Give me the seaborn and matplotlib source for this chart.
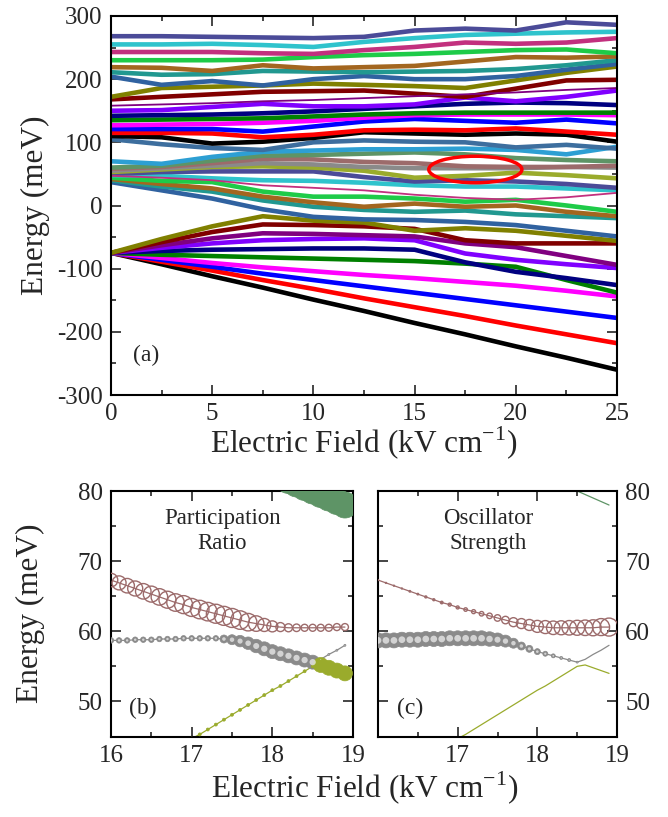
import matplotlib
matplotlib.use('Agg')
import matplotlib.pyplot as plt
from matplotlib.patches import Ellipse
from matplotlib.ticker import MultipleLocator
import seaborn as sns
import pandas as pd

# ---- panel (a): energy levels vs field ----
field = [0, 2.5, 5, 7.5, 10, 12.5, 15, 17.5, 20, 22.5, 25]

# states fanning out from -75 meV
fan_names = ['black', 'red', 'blue', 'magenta', 'green', 'navy', 'violet', 'purple', 'darkred', 'olive']
fan_E = [
    [-75, -93, -112, -130, -149, -167, -186, -204, -223, -241, -260],
    [-75, -89, -103, -118, -132, -147, -161, -175, -190, -204, -218],
    [-75, -86, -97, -108, -118, -128, -138, -148, -158, -168, -178],
    [-75, -83, -91, -98, -104, -110, -115, -121, -127, -135, -144],
    [-75, -78, -80, -82, -84, -86, -88, -92, -97, -118, -138],
    [-75, -72, -70, -69, -68, -68, -70, -90, -105, -115, -126],
    [-75, -67, -60, -55, -53, -52, -55, -76, -86, -93, -99],
    [-75, -63, -52, -44, -45, -47, -49, -60, -66, -80, -94],
    [-75, -58, -42, -30, -31, -33, -37, -55, -60, -60, -60],
    [-75, -53, -33, -17, -24, -27, -40, -36, -40, -48, -56],
]

# states bunched around +50 meV at zero field
mid_names = ['steelblue', 'teal', 'chocolate', 'limegreen', 'violetred', 'turquoise',
             'slateblue', 'yellowgreen', 'gray', 'rosybrown', 'seagreen', 'lightblue', 'steelblue2']
mid_E = [
    [37, 24, 11, -6, -18, -22, -23, -26, -31, -40, -49],
    [40, 30, 22, 8, -2, -7, -10, -8, -14, -17, -20],
    [42, 34, 27, 14, 5, -2, 3, -2, 0, -10, -17],
    [44, 39, 37, 22, 14, 14, 11, 6, 9, 0, -10],
    [47, 44, 40, 32, 28, 24, 17, 12, 9, 13, 20],
    [48, 47, 43, 40, 39, 36, 32, 30, 30, 27, 24],
    [50, 53, 54, 54, 54, 45, 38, 40, 38, 34, 28],
    [53, 57, 61, 62, 60, 55, 44, 47, 52, 48, 43],
    [55, 59, 63, 67, 65, 61, 59, 59, 59, 61, 60],
    [58, 61, 67, 74, 73, 69, 67, 62, 61, 61, 63],
    [60, 63, 71, 79, 80, 82, 84, 81, 75, 72, 70],
    [70, 66, 77, 85, 87, 89, 89, 90, 88, 81, 93],
    [105, 97, 91, 88, 100, 103, 101, 100, 92, 96, 90],
]

# upper states
up_names = ['black', 'red', 'blue', 'magenta', 'green', 'navy', 'violet', 'purple', 'darkred',
            'olive', 'steelblue', 'teal', 'chocolate', 'limegreen', 'violetred', 'turquoise', 'slateblue']
up_E = [
    [110, 108, 98, 101, 107, 116, 114, 112, 114, 112, 101],
    [115, 115, 114, 108, 112, 119, 120, 119, 122, 117, 112],
    [121, 121, 121, 117, 125, 133, 137, 134, 131, 136, 130],
    [127, 128, 129, 131, 134, 139, 143, 144, 144, 144, 143],
    [135, 136, 137, 138, 141, 144, 146, 147, 147, 147, 147],
    [142, 143, 144, 146, 149, 153, 157, 161, 163, 162, 159],
    [150, 151, 156, 161, 157, 157, 160, 171, 165, 172, 182],
    [158, 160, 162, 165, 167, 170, 173, 176, 179, 183, 186],
    [168, 172, 176, 180, 181, 182, 177, 172, 185, 198, 199],
    [172, 186, 188, 190, 193, 191, 189, 186, 198, 210, 220],
    [204, 191, 197, 190, 200, 205, 200, 200, 205, 215, 224],
    [211, 207, 208, 213, 212, 211, 212, 213, 216, 222, 230],
    [219, 218, 213, 222, 217, 219, 221, 228, 235, 234, 236],
    [230, 230, 230, 231, 235, 238, 240, 243, 246, 247, 241],
    [243, 243, 243, 241, 240, 246, 251, 258, 256, 258, 265],
    [255, 255, 256, 254, 251, 259, 265, 270, 272, 274, 275],
    [268, 268, 267, 266, 265, 267, 277, 280, 277, 290, 286],
]

# ---- panels (b) and (c): zoom on the anticrossing ----
zoom_field = [16.0, 16.1, 16.2, 16.3, 16.4, 16.5, 16.6, 16.7, 16.8, 16.9,
              17.0, 17.1, 17.2, 17.3, 17.4, 17.5, 17.6, 17.7, 17.8, 17.9,
              18.0, 18.1, 18.2, 18.3, 18.4, 18.5, 18.6, 18.7, 18.8, 18.9]
E_rosy = [67.3, 66.9, 66.5, 66.1, 65.7, 65.3, 64.9, 64.5, 64.1, 63.8,
          63.4, 63.1, 62.8, 62.5, 62.2, 61.9, 61.6, 61.3, 61.1, 60.9,
          60.7, 60.6, 60.5, 60.5, 60.5, 60.5, 60.5, 60.5, 60.6, 60.6]
E_gray = [58.7, 58.7, 58.7, 58.8, 58.8, 58.8, 58.9, 58.9, 58.9, 59.0,
          59.0, 59.0, 59.0, 59.0, 58.9, 58.8, 58.6, 58.3, 57.9, 57.5,
          57.1, 56.8, 56.5, 56.2, 55.9, 55.6, 56.0, 56.7, 57.3, 58.0]
E_ygreen = [37.8, 38.5, 39.2, 39.9, 40.6, 41.3, 41.9, 42.6, 43.3, 44.0,
            44.7, 45.3, 46.0, 46.7, 47.4, 48.1, 48.8, 49.5, 50.2, 50.9,
            51.6, 52.2, 52.9, 53.6, 54.3, 55.0, 55.2, 54.8, 54.4, 54.0]
E_sgreen = [92.0, 91.5, 91.0, 90.5, 90.0, 89.5, 89.0, 88.5, 88.0, 87.5,
            87.0, 86.5, 86.0, 85.5, 85.0, 84.5, 84.0, 83.5, 83.0, 82.8,
            82.5, 82.0, 81.5, 81.0, 80.5, 80.0, 79.5, 79.0, 78.5, 78.0]

# participation ratio (arbitrary units)
pr_rosy = [13.5, 14, 14.5, 15, 15.5, 16, 16.5, 17, 17.5, 18, 18, 18.5, 18.5, 19, 19,
           19, 18.5, 17.5, 15.5, 13, 11, 9, 8, 7.5, 7, 7, 7, 7, 7, 7]
pr_gray = [5.5, 5.5, 5.5, 5.5, 5.5, 5.5, 5.5, 5.5, 5.5, 5.5, 5.5, 5.5, 5.5, 5.5, 8,
           10, 11.5, 12.5, 13.5, 14, 14, 14, 14, 14, 14, 14, 2, 2, 2, 2]
pr_ygreen = [3, 3, 3, 3, 3, 3, 3, 3, 3, 3, 3, 3, 3, 3, 3,
             3, 3, 3, 3, 3, 3, 3, 3, 3, 3, 3, 15, 15, 15, 15]
pr_sgreen = [26] * 30

# oscillator strength (arbitrary units)
os_rosy = [1, 1, 1, 1, 1.5, 1.5, 2, 2, 2.5, 3, 3, 3.5, 4, 4.5, 5.5,
           6.5, 7.5, 9, 10, 11, 12, 13, 13.5, 14, 14.5, 15, 15.5, 16, 17, 18]
os_gray = [15, 15, 15, 15, 15, 15, 15, 15, 15, 15, 15, 15, 15, 15, 14.5,
           13.5, 12, 10, 8, 7, 6, 5, 4, 3, 3, 2, 0, 0, 0, 0]

colors = {
    'black': '#000000', 'red': '#FF0000', 'blue': '#0000FF', 'magenta': '#FF00FF',
    'green': '#008000', 'navy': '#000080', 'violet': '#8000FF', 'purple': '#800080',
    'darkred': '#800000', 'olive': '#808000', 'steelblue': '#3062A0', 'teal': '#219890',
    'chocolate': '#A3661F', 'limegreen': '#1ECB48', 'violetred': '#C2307E',
    'turquoise': '#2FC3CC', 'slateblue': '#4B4B98', 'yellowgreen': '#9AAB2C',
    'gray': '#8A8A8A', 'rosybrown': '#9C6B6B', 'seagreen': '#5E9466',
    'lightblue': '#2D9FD3', 'steelblue2': '#3D6E9E',
}
thin_states = ['mid-violetred', 'up-purple']

sns.set_style('ticks')
plt.rcParams['font.family'] = ['Liberation Serif', 'DejaVu Serif']
plt.rcParams['mathtext.fontset'] = 'custom'
plt.rcParams['mathtext.rm'] = 'Liberation Serif'
plt.rcParams['axes.unicode_minus'] = False
plt.rcParams['axes.linewidth'] = 1.5

TICK = 18
LABEL = 22.5


def style_axes(ax):
    ax.tick_params(which='both', direction='in', top=True, right=True,
                   width=1.2, labelsize=TICK, pad=6)
    ax.tick_params(which='major', length=7)
    ax.tick_params(which='minor', length=3.5)
    for sp in ax.spines.values():
        sp.set_color('black')
        sp.set_linewidth(1.5)


def level_frame():
    rows = []
    for prefix, names, energies in [('fan', fan_names, fan_E), ('mid', mid_names, mid_E),
                                    ('up', up_names, up_E)]:
        for name, vals in zip(names, energies):
            for f, e in zip(field, vals):
                rows.append({'state': prefix + '-' + name, 'color': name, 'F': f, 'E': e})
    return pd.DataFrame(rows)


def panel_a(ax):
    df = level_frame()
    pal = {s: colors[c] for s, c in zip(df['state'], df['color'])}
    thick = df[~df['state'].isin(thin_states)]
    thin = df[df['state'].isin(thin_states)]
    sns.lineplot(data=thick, x='F', y='E', hue='state', palette=pal, lw=3.3,
                 estimator=None, sort=False, legend=False, ax=ax)
    sns.lineplot(data=thin, x='F', y='E', hue='state', palette=pal, lw=1.3,
                 estimator=None, sort=False, legend=False, ax=ax)
    ax.add_patch(Ellipse((18.0, 57), width=4.6, height=42, fill=False,
                         edgecolor='red', lw=2.5, zorder=5))
    ax.set_xlim(0, 25)
    ax.set_ylim(-300, 300)
    ax.xaxis.set_major_locator(MultipleLocator(5))
    ax.xaxis.set_minor_locator(MultipleLocator(2.5))
    ax.yaxis.set_major_locator(MultipleLocator(100))
    ax.yaxis.set_minor_locator(MultipleLocator(50))
    ax.set_xlabel('')
    ax.set_ylabel('')
    ax.text(1.75, -237, '(a)', fontsize=17, ha='center', va='center')
    style_axes(ax)


def zoom_panel(ax, sizes, label, title):
    series = [('seagreen', E_sgreen), ('rosybrown', E_rosy), ('gray', E_gray), ('yellowgreen', E_ygreen)]
    for name, vals in series:
        d = pd.DataFrame({'F': zoom_field, 'E': vals})
        sns.lineplot(data=d, x='F', y='E', color=colors[name], lw=0.9,
                     estimator=None, sort=False, legend=False, ax=ax)
    for name, vals in series:
        d = pd.DataFrame({'F': zoom_field, 'E': vals, 'd': sizes[name]})
        d = d[d['d'] > 0]
        area = (0.72 * d['d']) ** 2
        if name == 'rosybrown':
            sns.scatterplot(data=d, x='F', y='E', s=area, facecolors='none',
                            edgecolor=colors[name], linewidth=1.0, legend=False, ax=ax, zorder=4)
        elif name == 'gray':
            sns.scatterplot(data=d, x='F', y='E', s=area, color=colors[name],
                            edgecolor=colors[name], linewidth=0.5, legend=False, ax=ax, zorder=4)
            sns.scatterplot(data=d, x='F', y='E', s=area * 0.2, color='#e6e6e6',
                            edgecolor='none', alpha=0.8, legend=False, ax=ax, zorder=5)
        else:
            sns.scatterplot(data=d, x='F', y='E', s=area, color=colors[name],
                            edgecolor=colors[name], linewidth=0.5, legend=False, ax=ax, zorder=4)
    ax.set_xlim(16, 19)
    ax.set_ylim(45, 80)
    ax.xaxis.set_major_locator(MultipleLocator(1))
    ax.xaxis.set_minor_locator(MultipleLocator(0.5))
    ax.yaxis.set_major_locator(MultipleLocator(10))
    ax.yaxis.set_minor_locator(MultipleLocator(5))
    ax.set_xlabel('')
    ax.set_ylabel('')
    ax.text(16.4, 49, label, fontsize=17, ha='center', va='center')
    ax.text(17.38, 74.3, title, fontsize=16.5, ha='center', va='center', linespacing=1.2)
    style_axes(ax)


def main():
    fig = plt.figure(figsize=(6.68, 8.17), dpi=100)
    W, H = 668.0, 817.0
    ax_a = fig.add_axes([111 / W, 1 - 395 / H, 506 / W, 379 / H])
    ax_b = fig.add_axes([111 / W, 1 - 736.5 / H, 242 / W, 245.5 / H])
    ax_c = fig.add_axes([378 / W, 1 - 736.5 / H, 239 / W, 245.5 / H])

    panel_a(ax_a)
    zoom_panel(ax_b, {'seagreen': pr_sgreen, 'rosybrown': pr_rosy,
                      'gray': pr_gray, 'yellowgreen': pr_ygreen},
               '(b)', 'Participation\nRatio')
    zoom_panel(ax_c, {'seagreen': [0] * 30, 'rosybrown': os_rosy,
                      'gray': os_gray, 'yellowgreen': [0] * 30},
               '(c)', 'Oscillator\nStrength')
    ax_c.set_xticks([17, 18, 19])
    ax_c.tick_params(labelleft=False, labelright=True)

    xlab = 'Electric Field (kV cm$^{-1}$)'
    fig.text(364 / W, 1 - 443 / H, xlab, fontsize=LABEL, ha='center', va='center')
    fig.text(365 / W, 1 - 788 / H, xlab, fontsize=LABEL, ha='center', va='center')
    fig.text(35 / W, 1 - 205 / H, 'Energy (meV)', fontsize=LABEL, rotation=90,
             ha='center', va='center')
    fig.text(30 / W, 1 - 613 / H, 'Energy (meV)', fontsize=LABEL, rotation=90,
             ha='center', va='center')

    fig.savefig('out.png', dpi=100)
    plt.close(fig)


if __name__ == '__main__':
    main()
